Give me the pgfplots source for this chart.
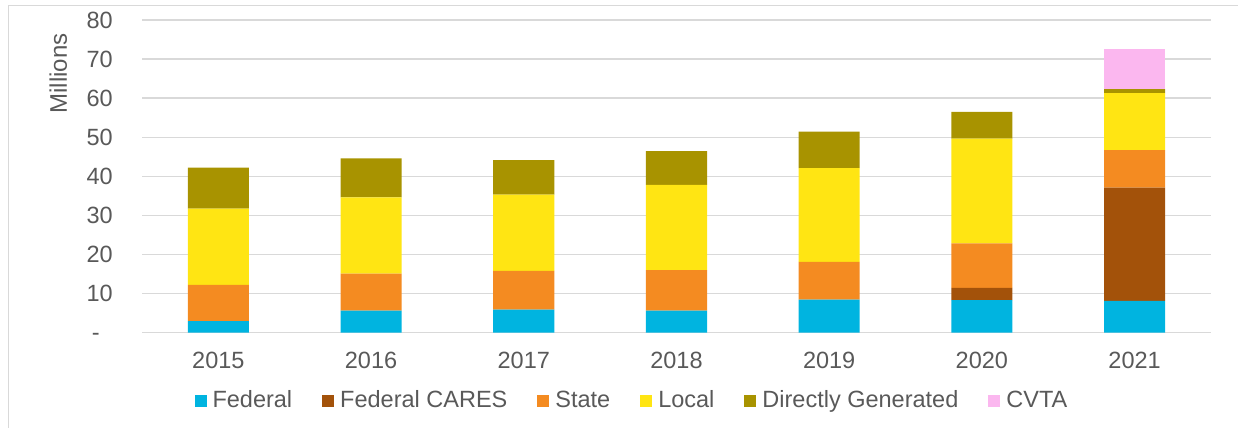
\documentclass[border=0pt]{standalone}
\usepackage{pgfplots}
\pgfplotsset{compat=1.18}
\usepackage{fontspec}
\setmainfont{Liberation Sans}
\definecolor{cFed}{HTML}{00B4E0}
\definecolor{cCares}{HTML}{A3520A}
\definecolor{cState}{HTML}{F48B21}
\definecolor{cLocal}{HTML}{FFE513}
\definecolor{cDG}{HTML}{A89300}
\definecolor{cCVTA}{HTML}{FBB7EF}
\definecolor{cGrid}{HTML}{D9D9D9}
\definecolor{cText}{HTML}{595959}
\newcommand\cf{\fontsize{23.5bp}{27bp}\selectfont}
\begin{document}
\begin{tikzpicture}[x=1bp,y=1bp]
\useasboundingbox (0,0) rectangle (1238,427);
\draw[cGrid,line width=1bp] (8,-2) -- (8,421) -- (1240,421);
\begin{axis}[
  at={(142bp,94.5bp)}, anchor=south west,
  scale only axis, width=1069bp, height=312.5bp,
  xmin=-0.5, xmax=6.5, ymin=0, ymax=80,
  ybar stacked, bar width=0.4,
  xtick={0,...,6}, xticklabels={2015,2016,2017,2018,2019,2020,2021},
  ytick={0,10,...,80}, yticklabels={-\phantom{0},10,20,30,40,50,60,70,80},
  major tick length=0pt,
  axis x line*=bottom, axis y line*=left,
  x axis line style={-,cGrid,line width=1.3bp},
  y axis line style={draw=none},
  ymajorgrids, grid style={cGrid,line width=1.3bp},
  every tick label/.append style={font=\cf, text=cText, inner sep=0pt},
  xticklabel style={anchor=north, yshift=-19bp},
  yticklabel style={anchor=east, xshift=-29bp},
  /pgf/number format/assume math mode=true,
  legend columns=6,
  legend style={draw=none, fill=none, inner sep=0pt, at={(0.4574,-0.2192)}, anchor=center,
    font=\cf, text=cText,
    nodes={inner sep=0pt, text height=17bp, text depth=5bp},
    /tikz/every odd column/.append style={column sep=6bp},
    /tikz/every even column/.append style={column sep=30bp}},
  legend image code/.code={\fill[#1] (0bp,-6bp) rectangle (12bp,6bp);},
  clip=false,
]
\addplot[fill=cFed, draw=none] coordinates {(0,2.9) (1,5.6) (2,5.85) (3,5.6) (4,8.4) (5,8.3) (6,8.1)};
\addplot[fill=cCares, draw=none] coordinates {(0,0) (1,0) (2,0) (3,0) (4,0) (5,3.1) (6,29.0)};
\addplot[fill=cState, draw=none] coordinates {(0,9.3) (1,9.5) (2,9.95) (3,10.4) (4,9.7) (5,11.4) (6,9.6)};
\addplot[fill=cLocal, draw=none] coordinates {(0,19.5) (1,19.5) (2,19.5) (3,21.8) (4,24.0) (5,26.8) (6,14.6)};
\addplot[fill=cDG, draw=none] coordinates {(0,10.5) (1,10.0) (2,8.8) (3,8.6) (4,9.3) (5,6.9) (6,1.0)};
\addplot[fill=cCVTA, draw=none] coordinates {(0,0) (1,0) (2,0) (3,0) (4,0) (5,0) (6,10.3)};
\legend{Federal, Federal CARES, State, Local, Directly Generated, CVTA}
\end{axis}
\node[rotate=90, font=\fontsize{24bp}{28bp}\selectfont, text=cText, inner sep=0pt] at (58.3,353.5) {Millions};
\end{tikzpicture}
\end{document}
